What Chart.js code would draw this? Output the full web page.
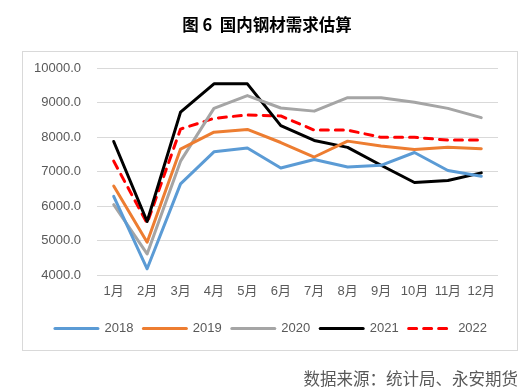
<!DOCTYPE html>
<html>
<head>
<meta charset="utf-8">
<script src="https://cdn.jsdelivr.net/npm/chart.js@4/dist/chart.umd.min.js"></script>
<style>
  html, body { margin: 0; padding: 0; background: #fff; }
  #wrap { width: 530px; height: 390px; position: relative; }
</style>
</head>
<body>
<div id="wrap"><canvas id="myChart"></canvas></div>
<script>
const months = ["1月", "2月", "3月", "4月", "5月", "6月", "7月", "8月", "9月", "10月", "11月", "12月"];
const y2018 = [6280, 4180, 6640, 7570, 7680, 7100, 7350, 7130, 7180, 7550, 7030, 6860];
const y2019 = [6580, 4950, 7650, 8140, 8220, 7840, 7420, 7880, 7740, 7640, 7700, 7660];
const y2020 = [6040, 4610, 7300, 8830, 9200, 8840, 8750, 9140, 9140, 9010, 8830, 8560];
const y2021 = [7870, 5550, 8720, 9540, 9540, 8330, 7900, 7700, 7180, 6680, 6740, 6960];
const y2022 = [7300, 5500, 8230, 8540, 8640, 8610, 8200, 8200, 7990, 7990, 7910, 7910];

const titleText = "图 6  国内钢材需求估算";
const sourceText = "数据来源：统计局、永安期货";

const fontFamily = "'Liberation Sans', 'Noto Sans CJK SC', sans-serif";
const textColor = "#595959";

// border, title and source note
const decorations = {
  id: "decorations",
  afterLayout(chart) {
    // legend sits a little right of the plot centre in the original
    chart.legend.left += 11;
    chart.legend.right += 11;
  },
  afterDraw(chart) {
    const c = chart.ctx;
    c.save();
    c.strokeStyle = "#d9d9d9";
    c.lineWidth = 1;
    c.strokeRect(22.5, 51.5, 495, 299);
    c.fillStyle = "#000";
    c.font = "bold 16.5px 'Noto Sans CJK SC', sans-serif";
    c.textAlign = "center";
    c.textBaseline = "middle";
    c.fillText(titleText, 267, 25);
    c.fillStyle = textColor;
    c.font = "16.5px 'Noto Sans CJK SC', sans-serif";
    c.textAlign = "right";
    c.fillText(sourceText, 518, 379);
    c.restore();
  },
};

function series(label, data, color, dash) {
  return {
    label: label,
    data: data,
    borderColor: color,
    backgroundColor: color,
    borderWidth: 3,
    borderDash: dash || [],
    pointRadius: 0,
    tension: 0,
    borderCapStyle: "round",
    borderJoinStyle: "round",
  };
}

const ctx = document.getElementById("myChart");

new Chart(ctx, {
  type: "line",
  data: {
    labels: months,
    datasets: [
      series("2018", y2018, "#5b9bd5"),
      series("2019", y2019, "#ed7d31"),
      series("2020", y2020, "#a5a5a5"),
      series("2021", y2021, "#000000"),
      series("2022", y2022, "#ff0000", [8, 7]),
    ],
  },
  options: {
    responsive: true,
    maintainAspectRatio: false,
    animation: false,
    layout: {
      padding: { top: 68, left: 22, right: 32, bottom: 45 },
    },
    scales: {
      x: {
        offset: true,
        grid: { display: false, drawTicks: false },
        border: { display: false },
        ticks: {
          color: textColor,
          font: { family: fontFamily, size: 13 },
          padding: 9,
          maxRotation: 0,
        },
        afterFit(scale) {
          scale.height = 37;
        },
      },
      y: {
        min: 4000,
        max: 10000,
        grid: { color: "#d9d9d9", lineWidth: 1, drawTicks: false },
        border: { display: false },
        ticks: {
          stepSize: 1000,
          color: textColor,
          font: { family: fontFamily, size: 13 },
          padding: 16,
          callback: (v) => v.toFixed(1),
        },
        afterFit(scale) {
          scale.width = 75;
        },
      },
    },
    plugins: {
      legend: {
        position: "bottom",
        labels: {
          usePointStyle: true,
          pointStyle: "line",
          pointStyleWidth: 43,
          color: textColor,
          font: { family: fontFamily, size: 13 },
          padding: 10,
          generateLabels(chart) {
            const items = Chart.defaults.plugins.legend.labels.generateLabels(chart);
            items.forEach((item) => {
              const ds = chart.data.datasets[item.datasetIndex];
              item.lineDash = ds.borderDash;
              item.lineWidth = 3;
              item.lineCap = "round";
              item.strokeStyle = ds.borderColor;
            });
            return items;
          },
        },
      },
      tooltip: { enabled: false },
    },
  },
  plugins: [decorations],
});
</script>
</body>
</html>
